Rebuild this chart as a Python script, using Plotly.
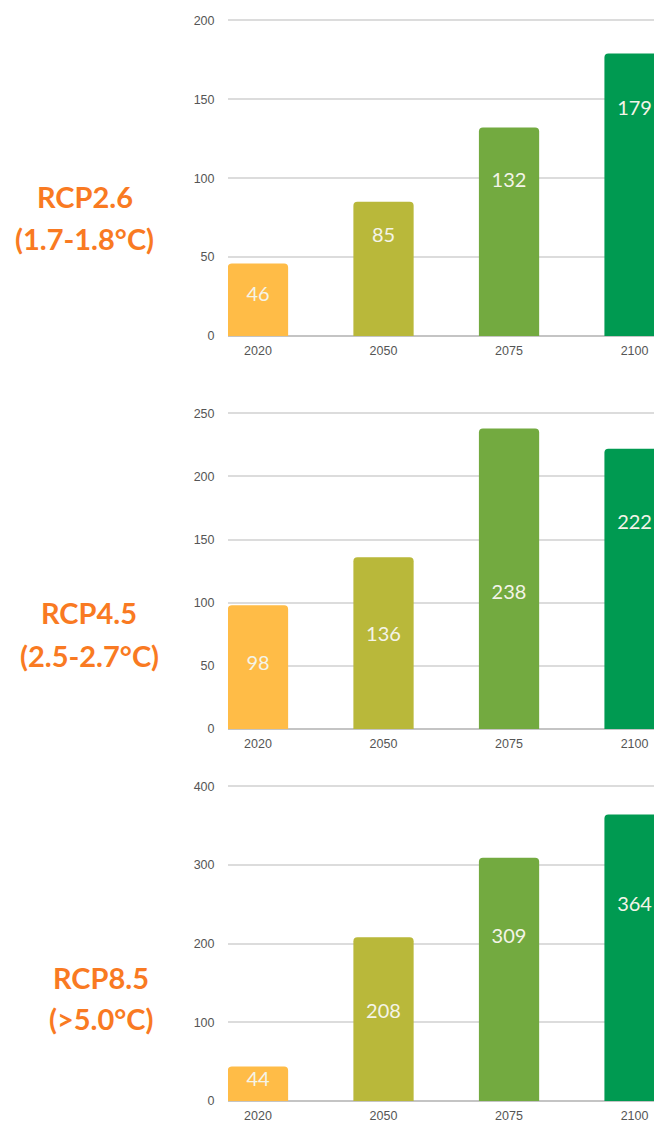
import plotly.graph_objects as go

years = ["2020", "2050", "2075", "2100"]
rcp26 = [46, 85, 132, 179]
rcp45 = [98, 136, 238, 222]
rcp85 = [44, 208, 309, 364]
scenario_names = ["RCP2.6", "RCP4.5", "RCP8.5"]
scenario_temps = ["(1.7-1.8°C)", "(2.5-2.7°C)", "(>5.0°C)"]
y_maxes = [200, 250, 400]
y_dticks = [50, 50, 100]

bar_colors = ["#FFBC47", "#B9B83A", "#73AA40", "#009A51"]
# label vertical placement as a fraction of bar height (style)
label_frac = [
    [0.55, 0.74, 0.74, 0.80],
    [0.52, 0.54, 0.45, 0.73],
    [0.57, 0.54, 0.67, 0.68],
]
series = [rcp26, rcp45, rcp85]

W, H = 654, 1122
panels_px = [(19, 336), (412, 729), (785, 1101)]
label_x_px = [85, 89, 101]
label_y_px = [(197, 238), (612, 655), (977, 1018)]

fig = go.Figure()
annotations = []
for i, vals in enumerate(series):
    n = i + 1
    xa = "x" if n == 1 else f"x{n}"
    ya = "y" if n == 1 else f"y{n}"
    fig.add_trace(go.Bar(
        x=years, y=vals, xaxis=xa, yaxis=ya,
        marker=dict(color=bar_colors, line=dict(width=0), cornerradius=4),
        hoverinfo="x+y", showlegend=False,
    ))
    fig.add_trace(go.Scatter(
        x=years, y=[v * f for v, f in zip(vals, label_frac[i])],
        text=[str(v) for v in vals], mode="text", xaxis=xa, yaxis=ya,
        textposition="middle center",
        textfont=dict(family="Lato", size=20, color="#F4F4E8"),
        hoverinfo="skip", showlegend=False, cliponaxis=False,
    ))
    top, bot = panels_px[i]
    dom = [1 - bot / H, 1 - top / H]
    axk = "" if n == 1 else str(n)
    fig.update_layout(**{
        f"xaxis{axk}": dict(
            domain=[228 / W, 1], range=[-0.239, 3.155], anchor=ya, automargin=False,
            type="category", showgrid=False, zeroline=False,
            showline=False, ticks="outside", ticklen=3, tickcolor="rgba(0,0,0,0)",
            tickfont=dict(family="Arial", size=12.5, color="#555555"),
        ),
        f"yaxis{axk}": dict(
            domain=dom, range=[0, y_maxes[i] * 1.004], anchor=xa, automargin=False,
            tickvals=list(range(0, y_maxes[i] + 1, y_dticks[i])),
            showgrid=True, gridcolor="#DCDCDC", gridwidth=1.5,
            zeroline=True, zerolinecolor="#C4C4C4", zerolinewidth=1.5,
            showline=False, ticks="outside", ticklen=10, tickcolor="rgba(0,0,0,0)",
            tickfont=dict(family="Arial", size=12.5, color="#555555"),
        ),
    })
    for k, txt in enumerate([scenario_names[i], scenario_temps[i]]):
        annotations.append(dict(
            x=label_x_px[i] / W, y=1 - label_y_px[i][k] / H, xref="paper", yref="paper",
            text=f"<b>{txt}</b>", showarrow=False, xanchor="center", yanchor="middle",
            font=dict(family="Lato", size=29, color="#F97A22"),
        ))

fig.update_layout(
    width=W, height=H, margin=dict(l=0, r=0, t=0, b=0, pad=0),
    plot_bgcolor="white", paper_bgcolor="white",
    bargap=0.52, annotations=annotations,
)
fig.write_html(
    "out.html",
    config={"displayModeBar": False},
    post_script="document.body.style.margin='0';document.body.style.overflow='hidden';",
)
